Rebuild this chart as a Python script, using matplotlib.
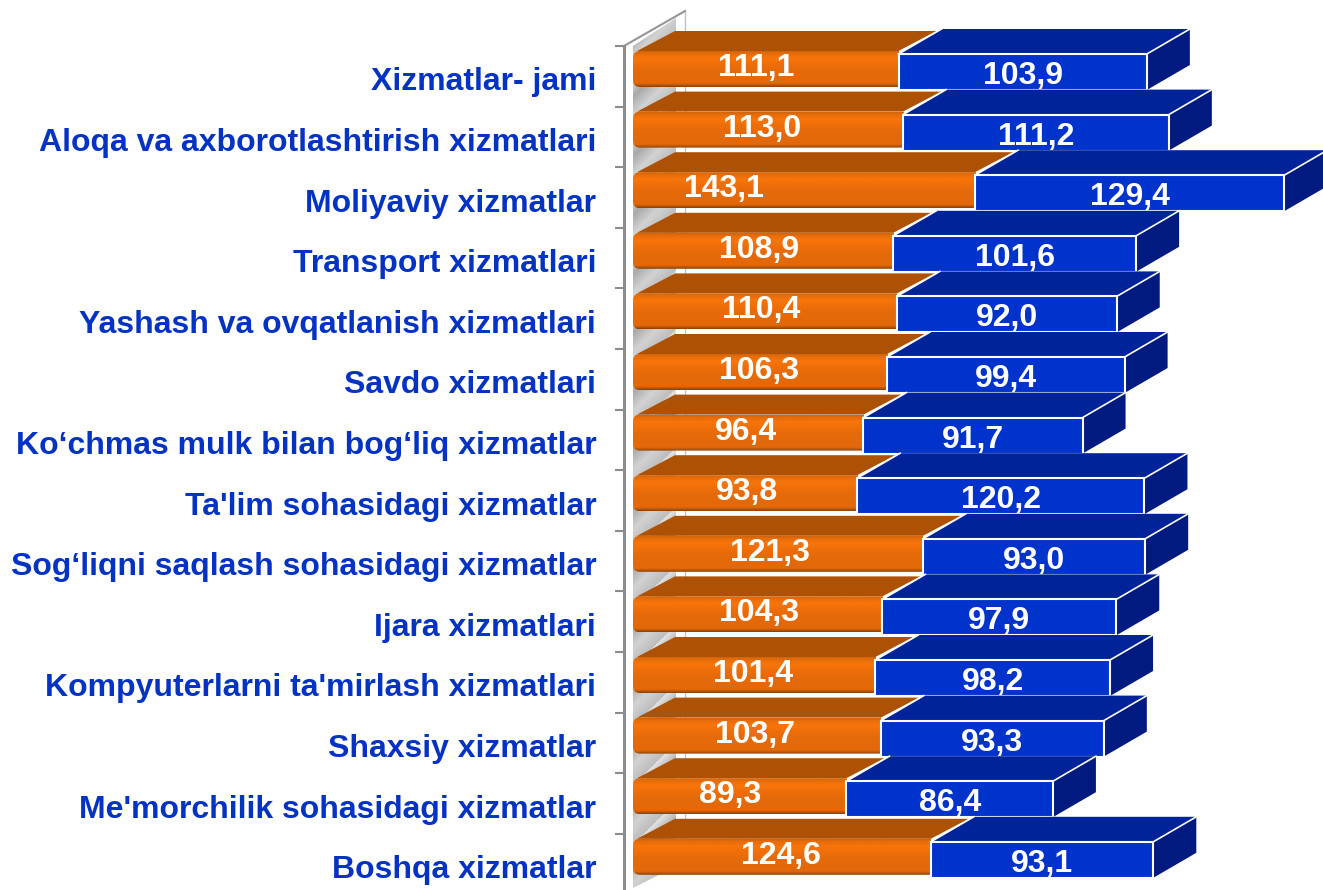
import numpy as np
import matplotlib
matplotlib.use("Agg")
import matplotlib.pyplot as plt
from matplotlib.colors import LinearSegmentedColormap
from matplotlib.patches import FancyBboxPatch, Polygon
from matplotlib.transforms import ScaledTranslation

categories = ["Xizmatlar- jami", "Aloqa va axborotlashtirish xizmatlari", "Moliyaviy xizmatlar",
              "Transport xizmatlari", "Yashash va ovqatlanish xizmatlari", "Savdo xizmatlari",
              "Ko‘chmas mulk bilan bog‘liq xizmatlar", "Ta'lim sohasidagi xizmatlar",
              "Sog‘liqni saqlash sohasidagi xizmatlar", "Ijara xizmatlari",
              "Kompyuterlarni ta'mirlash xizmatlari", "Shaxsiy xizmatlar",
              "Me'morchilik sohasidagi xizmatlar", "Boshqa xizmatlar"]
orange_values = [111.1, 113.0, 143.1, 108.9, 110.4, 106.3, 96.4, 93.8, 121.3, 104.3, 101.4, 103.7, 89.3, 124.6]
blue_values = [103.9, 111.2, 129.4, 101.6, 92.0, 99.4, 91.7, 120.2, 93.0, 97.9, 98.2, 93.3, 86.4, 93.1]

# the orange labels were placed by hand in the original, offset from bar centre in px
orange_label_shift = [-10, -6, -80, -4, -4, -1, -2, 2, -8, 1, -1, -2, -10, -1]

plt.rcParams["font.family"] = ["Liberation Sans", "DejaVu Sans"]
plt.rcParams["font.weight"] = "bold"

# px scales of the picture
XPX = 1 / 2.39    # data units per px, x
YPX = 1 / 60.6    # rows per px, y
BLUE = "#0033cc"
LABEL_BLUE = "#0433c4"

fig = plt.figure(figsize=(13.23, 8.9), dpi=100)
ax = fig.add_axes([624 / 1323, 0, 1 - 624 / 1323, 1])
xlim = (-9 * XPX, 690 * XPX)
ylim = (818 * YPX, -72 * YPX)

n = len(categories)
rows = np.arange(n)
orange = np.array(orange_values)
blue = np.array(blue_values)

orange_cmap = LinearSegmentedColormap.from_list("orange_bar", [
    (0.0, "#d0640a"), (0.06, "#e56c0a"), (0.2, "#f9750a"), (0.32, "#f07009"),
    (0.55, "#e56a0a"), (0.9, "#e36809"), (0.96, "#b55505"), (1.0, "#8a4003")])
wall_cmap = LinearSegmentedColormap.from_list("wall", ["#e4e4e4", "#a9a9a9", "#d2d2d2", "#bdbdbd"])

# side wall, the gradient follows the slant of the wall
wall_outline = Polygon([(0, -26 * YPX), (43 * XPX, -54 * YPX), (43 * XPX, 794 * YPX), (0, 816 * YPX)],
                       transform=ax.transData, facecolor="none", edgecolor="none")
ax.add_patch(wall_outline)
wall_x, wall_y = np.meshgrid(np.linspace(0, 1, 60), np.arange(900))
wall_im = ax.imshow(((wall_x * 43 + wall_y * 1.0) % 61) / 61, cmap=wall_cmap, aspect="auto",
                    extent=(0, 43 * XPX, 816 * YPX, -54 * YPX), zorder=1)
wall_im.set_clip_path(wall_outline)
ax.plot([-9 * XPX, 52 * XPX], [-26 * YPX, -61 * YPX], color="#969696", lw=1.5, zorder=2)
ax.plot([52 * XPX, 52 * XPX], [-61 * YPX, 800 * YPX], color="#c4c4c4", lw=1.0, zorder=0.5)

blue_h = 36 * YPX
orange_h = 36 * YPX
orange_y = rows - 3 * YPX
orange_bars = ax.barh(orange_y, orange, height=orange_h, color="none", edgecolor="none")
blue_bars = ax.barh(rows, blue, left=orange, height=blue_h, color=BLUE, edgecolor="white", linewidth=1.5)

for i in rows:
    z = 5 + 5 * i
    ob = orange_bars[i]
    x1 = ob.get_x() + ob.get_width()
    y0 = ob.get_y()
    y1 = y0 + ob.get_height()

    # orange top face, right end is hidden under the blue top
    ax.add_patch(Polygon([(4 * XPX, y0), (42 * XPX, y0 - 20 * YPX), (x1 + 38 * XPX, y0 - 20 * YPX), (x1, y0)],
                         facecolor="#ad5204", edgecolor="none", zorder=z))

    # orange front with rounded left end
    clip = FancyBboxPatch((0, y0), x1 + 30, orange_h, boxstyle="round,pad=0,rounding_size=%f" % (7 * XPX),
                          mutation_aspect=YPX / XPX, transform=ax.transData)
    im = ax.imshow(np.linspace(0, 1, 100).reshape(-1, 1), cmap=orange_cmap, aspect="auto",
                   extent=(0, x1, y1, y0), zorder=z + 1)
    im.set_clip_path(clip)

    bb = blue_bars[i]
    bx0 = bb.get_x()
    bx1 = bx0 + bb.get_width()
    by0 = bb.get_y()
    by1 = by0 + bb.get_height()
    dx, dy = 43 * XPX, 25 * YPX
    ax.add_patch(Polygon([(bx0, by0), (bx0 + dx, by0 - dy), (bx1 + dx, by0 - dy), (bx1, by0)],
                         facecolor="#00239a", edgecolor="none", zorder=z + 2))
    ax.add_patch(Polygon([(bx1, by0), (bx1 + dx, by0 - dy), (bx1 + dx, by1 - dy), (bx1, by1)],
                         facecolor="#001a80", edgecolor="none", zorder=z + 2))
    ax.plot([bx0, bx0 + dx], [by0, by0 - dy], color="white", lw=1.2, zorder=z + 3)
    ax.plot([bx1, bx1 + dx], [by0, by0 - dy], color="white", lw=1.2, zorder=z + 3)
    bb.set_zorder(z + 3)

    ax.text(x1 / 2 + orange_label_shift[i] * XPX, rows[i] - 4 * YPX, f"{orange_values[i]:.1f}".replace(".", ","),
            color="white", fontsize=23, ha="center", va="center", zorder=z + 4)
    ax.text((bx0 + bx1) / 2, rows[i] + 4 * YPX, f"{blue_values[i]:.1f}".replace(".", ","),
            color="white", fontsize=23, ha="center", va="center", zorder=z + 4)

ax.set_xlim(xlim)
ax.set_ylim(ylim)
ax.patch.set_visible(False)
ax.xaxis.set_visible(False)
for side in ["top", "right", "bottom"]:
    ax.spines[side].set_visible(False)
ax.spines["left"].set_color("#8c8c8c")
ax.spines["left"].set_linewidth(2.2)
ax.spines["left"].set_bounds(-26 * YPX, ylim[0])

ax.set_yticks(rows)
ax.set_yticklabels(categories)
ax.set_yticks(rows - 26 * YPX, minor=True)
ax.tick_params(axis="y", which="major", length=0, pad=20, labelsize=23, labelcolor=LABEL_BLUE)
ax.tick_params(axis="y", which="minor", length=6.5, width=1.5, color="#8c8c8c")
label_shift = ScaledTranslation(0, -5 / 72, fig.dpi_scale_trans)
for lab in ax.get_yticklabels():
    lab.set_transform(lab.get_transform() + label_shift)

fig.savefig("out.png", dpi=100)
